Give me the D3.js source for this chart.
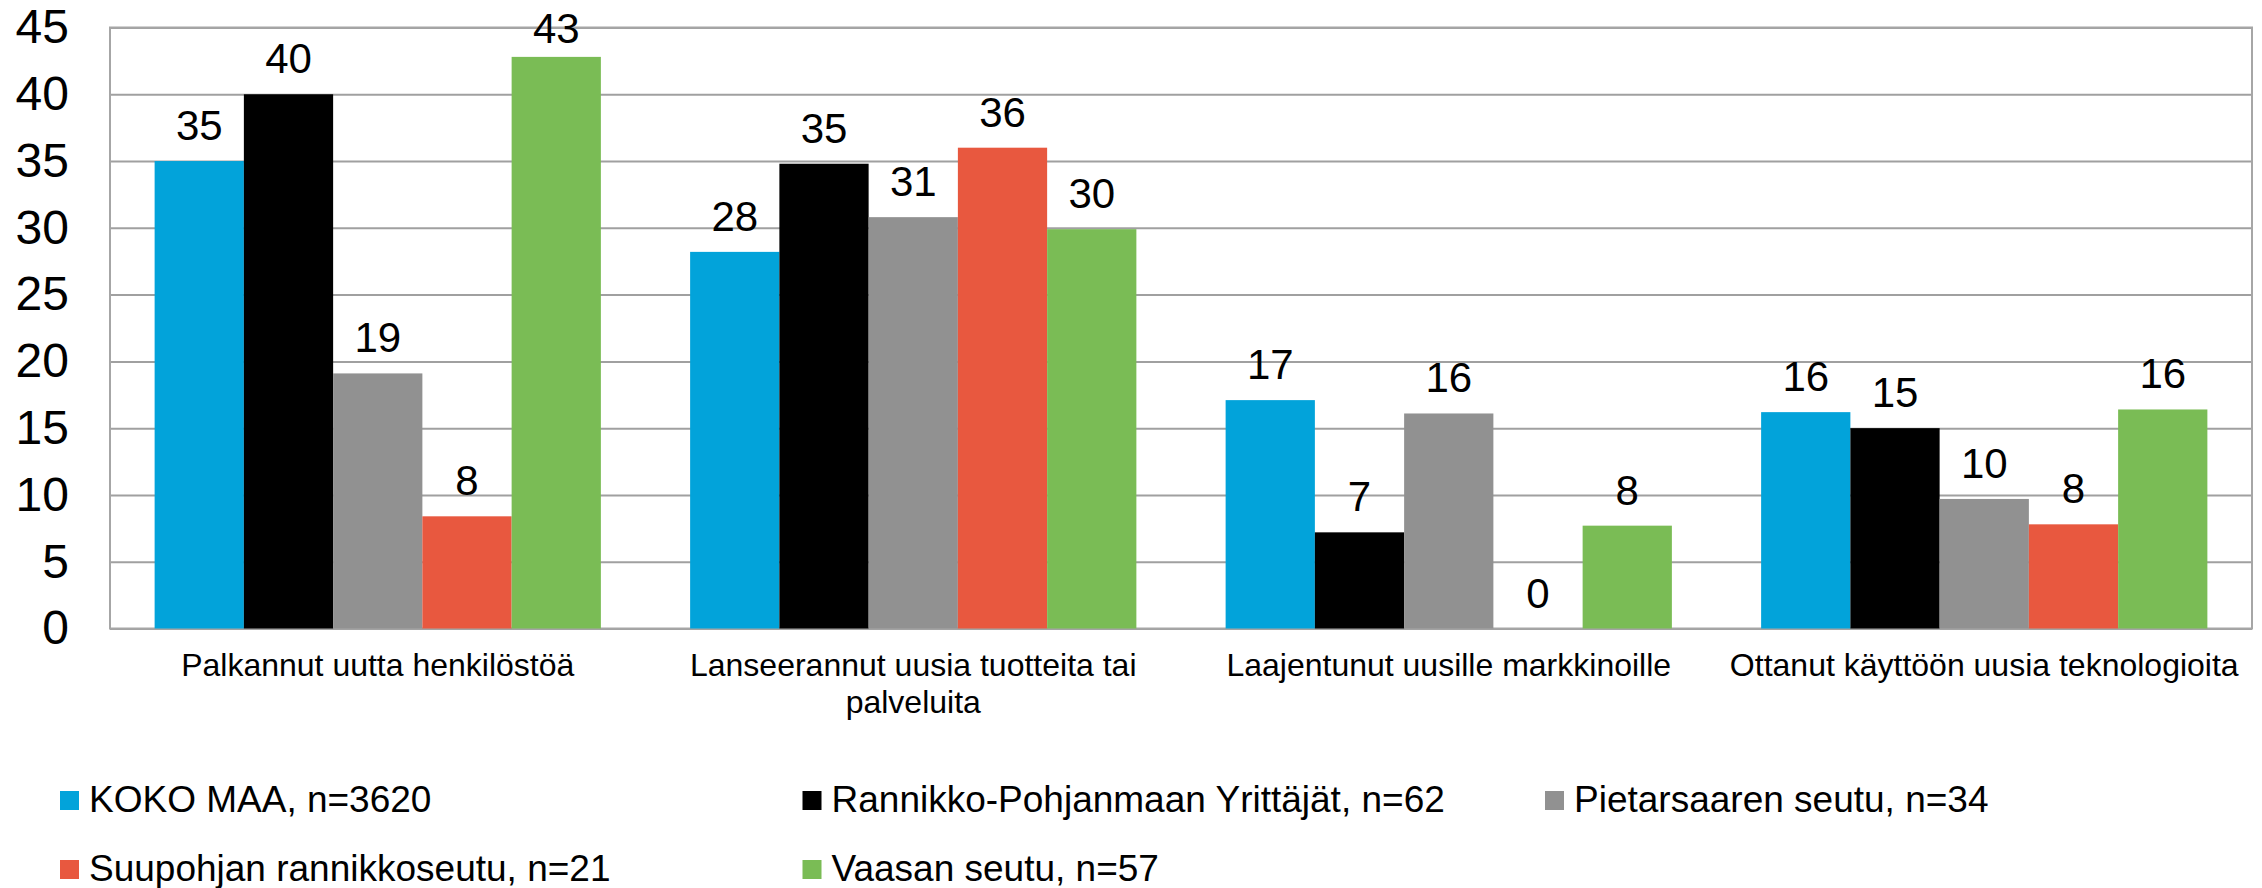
<!DOCTYPE html>
<html>
<head>
<meta charset="utf-8">
<script src="https://cdn.jsdelivr.net/npm/d3@7"></script>
<style>
  html, body { margin: 0; padding: 0; background: #ffffff; }
  svg { display: block; }
  text { font-family: "Liberation Sans", Arial, sans-serif; fill: #000; }
</style>
</head>
<body>
<svg id="chart" width="2262" height="888"></svg>
<script>
// ---- data ----
const categories = [
  "Palkannut uutta henkilöstöä",
  "Lanseerannut uusia tuotteita tai palveluita",
  "Laajentunut uusille markkinoille",
  "Ottanut käyttöön uusia teknologioita"
];
const seriesNames = [
  "KOKO MAA, n=3620",
  "Rannikko-Pohjanmaan Yrittäjät, n=62",
  "Pietarsaaren seutu, n=34",
  "Suupohjan rannikkoseutu, n=21",
  "Vaasan seutu, n=57"
];
const seriesColors = ["#02a3da", "#000000", "#919191", "#e8583f", "#7abc55"];
const kokoMaa     = [35.0, 28.2, 17.1, 16.2];
const rannikko    = [40.0, 34.8, 7.2, 15.0];
const pietarsaari = [19.1, 30.8, 16.1, 9.7];
const suupohja    = [8.4, 36.0, 0, 7.8];
const vaasa       = [42.8, 29.9, 7.7, 16.4];
const yTicks = [0, 5, 10, 15, 20, 25, 30, 35, 40, 45];

const seriesValues = [kokoMaa, rannikko, pietarsaari, suupohja, vaasa];

// ---- layout ----
const W = 2262, H = 888;
const plot = { left: 110, right: 2252, top: 27.5, bottom: 628.5 };
const svg = d3.select("#chart");

const x0 = d3.scaleBand()
  .domain(categories)
  .range([plot.left, plot.right])
  .paddingInner(1 / 6)
  .paddingOuter(1 / 12);
const x1 = d3.scaleBand()
  .domain(seriesNames)
  .range([0, x0.bandwidth()]);
const y = d3.scaleLinear().domain([0, 45]).range([plot.bottom, plot.top]);

// gridlines
const grid = svg.append("g")
  .attr("transform", `translate(${plot.left},0)`)
  .call(d3.axisLeft(y).tickValues(yTicks).tickSize(-(plot.right - plot.left)).tickFormat(""));
grid.select(".domain").remove();
grid.selectAll("line").attr("stroke", "#a0a0a0").attr("stroke-width", 2);

// plot border
svg.append("rect")
  .attr("x", plot.left).attr("y", plot.top)
  .attr("width", plot.right - plot.left).attr("height", plot.bottom - plot.top)
  .attr("fill", "none").attr("stroke", "#a6a6a6").attr("stroke-width", 2);

// y tick labels
const yAxis = svg.append("g")
  .attr("transform", `translate(${plot.left},0)`)
  .call(d3.axisLeft(y).tickValues(yTicks).tickSize(0).tickPadding(41));
yAxis.select(".domain").remove();
yAxis.selectAll("text")
  .attr("font-size", 48)
  .attr("font-family", "'Liberation Sans', Arial, sans-serif")
  .attr("fill", "#000");

// bars
const rows = [];
categories.forEach((c, ci) => {
  seriesNames.forEach((s, si) => {
    rows.push({ cat: c, series: s, color: seriesColors[si], value: seriesValues[si][ci] });
  });
});

const gBars = svg.append("g");
gBars.selectAll("rect")
  .data(rows)
  .join("rect")
  .attr("x", d => x0(d.cat) + x1(d.series))
  .attr("y", d => y(d.value))
  .attr("width", x1.bandwidth())
  .attr("height", d => y(0) - y(d.value))
  .attr("fill", d => d.color);

// value labels (kept inside the chart area at the top, as the original does)
const fmt = d3.format(".0f");
gBars.selectAll("text.val")
  .data(rows)
  .join("text")
  .attr("class", "val")
  .attr("x", d => x0(d.cat) + x1(d.series) + x1.bandwidth() / 2)
  .attr("y", d => Math.max(y(d.value) - 21, 43))
  .attr("text-anchor", "middle")
  .attr("font-size", 42)
  .text(d => fmt(d.value));

// category labels (wrapped)
const catG = svg.append("g");
categories.forEach(c => {
  const t = catG.append("text")
    .attr("x", x0(c) + x0.bandwidth() / 2)
    .attr("y", 676)
    .attr("text-anchor", "middle")
    .attr("font-size", 32);
  const words = c.split(" ");
  const maxW = x0.step();
  let line = [];
  let tspan = t.append("tspan").attr("x", x0(c) + x0.bandwidth() / 2).attr("dy", 0);
  words.forEach(w => {
    line.push(w);
    tspan.text(line.join(" "));
    if (tspan.node().getComputedTextLength() > maxW - 20 && line.length > 1) {
      line.pop();
      tspan.text(line.join(" "));
      line = [w];
      tspan = t.append("tspan").attr("x", x0(c) + x0.bandwidth() / 2).attr("dy", 37).text(w);
    }
  });
});

// legend
const legend = svg.append("g");
const colStep = 742.5;
seriesNames.forEach((s, i) => {
  const col = i % 3, row = Math.floor(i / 3);
  const gx = 60 + col * colStep;
  const gy = 791 + row * 69;
  legend.append("rect")
    .attr("x", gx).attr("y", gy)
    .attr("width", 19).attr("height", 19)
    .attr("fill", seriesColors[i]);
  legend.append("text")
    .attr("x", gx + 29).attr("y", gy + 20.5)
    .attr("font-size", 37)
    .text(s);
});
</script>
</body>
</html>
